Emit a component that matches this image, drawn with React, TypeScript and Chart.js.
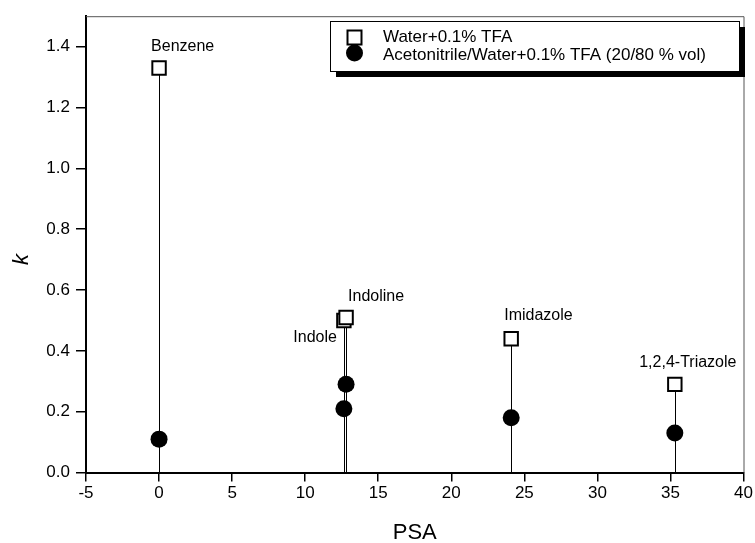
import React, { useEffect, useRef } from "react";
import { Chart, registerables } from "chart.js";
Chart.register(...registerables);

// ---- data ----
const compounds = ["Benzene", "Indole", "Indoline", "Imidazole", "1,2,4-Triazole"];
const psa = [0, 12.65, 12.8, 24.1, 35.3];
const kWater = [1.33, 0.5, 0.51, 0.44, 0.29];
const kAcetonitrile = [0.11, 0.21, 0.29, 0.18, 0.13];
const seriesLabels = ["Water+0.1% TFA", "Acetonitrile/Water+0.1% TFA (20/80 % vol)"];
const xTicks = [-5, 0, 5, 10, 15, 20, 25, 30, 35, 40];
const yTicks = [0, 0.2, 0.4, 0.6, 0.8, 1.0, 1.2, 1.4];
const xTitle = "PSA";
const yTitle = "k";

const FONT = "Arial, 'Liberation Sans', Helvetica, sans-serif";

// label placement (styling only)
const labelPlacement: { dx: number; dy: number; align: CanvasTextAlign }[] = [
  { dx: -8, dy: -21, align: "left" },
  { dx: -7, dy: 17, align: "right" },
  { dx: 2, dy: -21, align: "left" },
  { dx: -7, dy: -23, align: "left" },
  { dx: 13, dy: -22, align: "center" },
];

const stemsPlugin = {
  id: "stems",
  beforeDatasetsDraw(chart: any) {
    const meta = chart.getDatasetMeta(0);
    const y0 = chart.scales.y.getPixelForValue(0);
    const ctx = chart.ctx;
    ctx.save();
    ctx.strokeStyle = "#000";
    ctx.lineWidth = 1;
    meta.data.forEach((pt: any) => {
      const x = Math.round(pt.x) + 0.5;
      ctx.beginPath();
      ctx.moveTo(x, pt.y);
      ctx.lineTo(x, y0);
      ctx.stroke();
    });
    ctx.restore();
  },
};

const framePlugin = {
  id: "frame",
  afterDraw(chart: any) {
    const { ctx, chartArea: a } = chart;
    ctx.save();
    ctx.strokeStyle = "#555";
    ctx.lineWidth = 1;
    ctx.beginPath();
    ctx.moveTo(a.left, a.top + 0.5);
    ctx.lineTo(a.right + 0.5, a.top + 0.5);
    ctx.lineTo(a.right + 0.5, a.bottom);
    ctx.stroke();
    // y axis title
    ctx.fillStyle = "#000";
    ctx.font = `italic 22px ${FONT}`;
    ctx.textAlign = "center";
    ctx.textBaseline = "middle";
    ctx.translate(22, (a.top + a.bottom) / 2 + 15);
    ctx.rotate(-Math.PI / 2);
    ctx.fillText(yTitle, 0, 0);
    ctx.restore();
  },
};

const labelsPlugin = {
  id: "compoundLabels",
  afterDatasetsDraw(chart: any) {
    const meta = chart.getDatasetMeta(0);
    const ctx = chart.ctx;
    ctx.save();
    ctx.fillStyle = "#000";
    ctx.font = `16px ${FONT}`;
    ctx.textBaseline = "middle";
    meta.data.forEach((pt: any, i: number) => {
      const p = labelPlacement[i];
      ctx.textAlign = p.align;
      ctx.fillText(compounds[i], pt.x + p.dx, pt.y + p.dy);
    });
    ctx.restore();
  },
};

const legendPlugin = {
  id: "boxLegend",
  afterDraw(chart: any) {
    const ctx = chart.ctx;
    const bx = 330, by = 21, bw = 409, bh = 50, sh = 6;
    ctx.save();
    ctx.fillStyle = "#000";
    ctx.fillRect(bx + sh, by + sh, bw, bh);
    ctx.fillStyle = "#fff";
    ctx.fillRect(bx, by, bw, bh);
    ctx.strokeStyle = "#000";
    ctx.lineWidth = 1;
    ctx.strokeRect(bx + 0.5, by + 0.5, bw, bh);
    const markerRows = [37.5, 53];
    const textRows = [37, 55];
    chart.data.datasets.forEach((ds: any, i: number) => {
      const cx = 354.5, cy = markerRows[i];
      ctx.beginPath();
      if (ds.pointStyle === "rect") {
        ctx.fillStyle = "#fff";
        ctx.strokeStyle = "#000";
        ctx.lineWidth = 2;
        ctx.rect(cx - 7, cy - 7, 14, 14);
        ctx.fill();
        ctx.stroke();
      } else {
        ctx.fillStyle = "#000";
        ctx.arc(cx, cy, 8.5, 0, Math.PI * 2);
        ctx.fill();
      }
      ctx.fillStyle = "#000";
      ctx.font = `17px ${FONT}`;
      ctx.textAlign = "left";
      ctx.textBaseline = "middle";
      ctx.fillText(ds.label, 383, textRows[i]);
    });
    ctx.restore();
  },
};

export default function App() {
  const ref = useRef<HTMLCanvasElement>(null);
  useEffect(() => {
    if (!ref.current) return;
    const chart = new Chart(ref.current, {
      type: "scatter",
      data: {
        datasets: [
          {
            label: seriesLabels[0],
            data: psa.map((x, i) => ({ x, y: kWater[i] })),
            pointStyle: "rect",
            pointRadius: 9.5,
            pointHoverRadius: 9.5,
            backgroundColor: "#fff",
            borderColor: "#000",
            borderWidth: 2,
            order: 1,
          },
          {
            label: seriesLabels[1],
            data: psa.map((x, i) => ({ x, y: kAcetonitrile[i] })),
            pointStyle: "circle",
            pointRadius: 8.5,
            pointHoverRadius: 8.5,
            backgroundColor: "#000",
            borderColor: "#000",
            borderWidth: 0,
            order: 2,
          },
        ],
      },
      options: {
        responsive: false,
        animation: false,
        events: [],
        layout: { padding: { top: 13, right: 11, left: 0, bottom: 0 } },
        plugins: { legend: { display: false }, tooltip: { enabled: false } },
        scales: {
          x: {
            type: "linear",
            min: -5,
            max: 40,
            afterFit(s: any) { s.height = 70.4; },
            afterBuildTicks(s: any) { s.ticks = xTicks.map((v) => ({ value: v })); },
            grid: { drawOnChartArea: false, drawTicks: true, tickLength: 9, color: "#000", lineWidth: 1.5 },
            border: { display: true, color: "#000", width: 2 },
            ticks: { color: "#000", padding: 2, font: { family: FONT, size: 17 }, maxRotation: 0, callback: (v: any) => String(v) },
            title: { display: true, text: xTitle, color: "#000", font: { family: FONT, size: 22 }, padding: { top: 4, bottom: -3 } },
          },
          y: {
            type: "linear",
            min: 0,
            max: 1.5,
            afterFit(s: any) { s.width = 86; },
            afterBuildTicks(s: any) { s.ticks = yTicks.map((v) => ({ value: v })); },
            grid: { drawOnChartArea: false, drawTicks: true, tickLength: 10, color: "#000", lineWidth: 1.5 },
            border: { display: true, color: "#000", width: 2 },
            ticks: { color: "#000", padding: 6, font: { family: FONT, size: 17 }, callback: (v: any) => Number(v).toFixed(1) },
            title: { display: false },
          },
        },
      },
      plugins: [stemsPlugin, framePlugin, labelsPlugin, legendPlugin],
    });
    return () => chart.destroy();
  }, []);
  return (
    <div style={{ position: "fixed", left: 0, top: 0, width: 755, height: 543, background: "#fff" }}>
      <canvas ref={ref} width={755} height={543} style={{ display: "block" }} />
    </div>
  );
}
